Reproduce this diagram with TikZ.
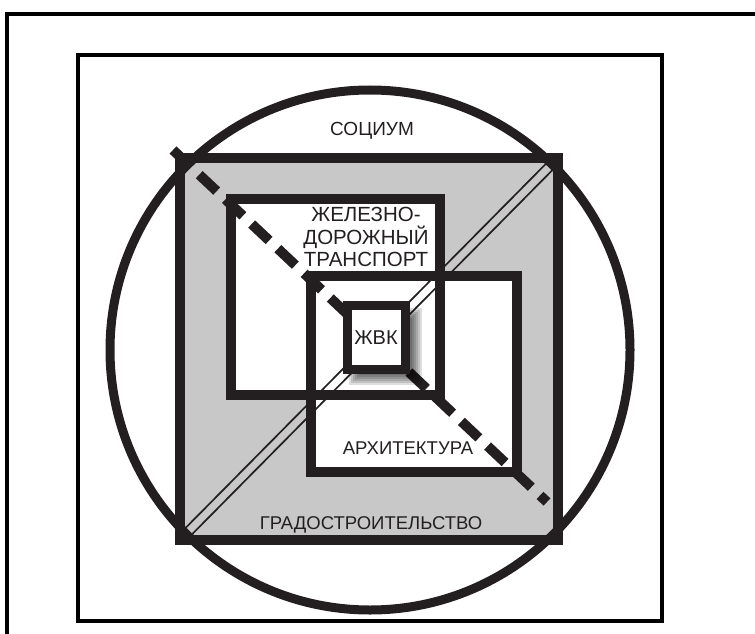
\documentclass[tikz,border=0pt]{standalone}
\usepackage{fontspec}
\setmainfont{Liberation Sans}
\definecolor{ink}{HTML}{231F20}
\definecolor{fieldgray}{HTML}{C8C8C8}
\begin{document}
\begin{tikzpicture}[x=1pt,y=-1pt,
  frame/.style={draw=black,line width=4pt},
  thick box/.style={draw=ink,line width=10pt,line join=miter},
  twin/.style={draw=ink,line width=1.7pt},
  axis dash/.style={draw=ink,line width=10pt,dash pattern=on 24pt off 12pt},
  lbl/.style={font=\fontsize{18.5}{20}\selectfont,text=ink,inner sep=0pt,anchor=base},
  big lbl/.style={lbl,font=\fontsize{20.5}{22}\selectfont}]
\useasboundingbox (0,0) rectangle (755,634);
\begin{scope}
\clip (0,0) rectangle (755,634);
\draw[frame] (7,14) rectangle (790,660);
\end{scope}
\draw[frame] (78,55) rectangle (662,621);
% fills
\fill[fieldgray] (180,158) rectangle (558,540);
\fill[white] (231,199) rectangle (440,395);
\fill[white] (311,276) rectangle (517,472);
% double anti-diagonal
\coordinate (bl) at (180,540);
\coordinate (tr) at (558,158);
\draw[twin] ([shift={(-3.2,-3.2)}]bl) -- ([shift={(-3.2,-3.2)}]tr);
\draw[twin] ([shift={(3.2,3.2)}]bl) -- ([shift={(3.2,3.2)}]tr);
% borders
\draw[thick box] (180,158) rectangle (558,540);
\draw[thick box] (231,199) rectangle (440,395);
\draw[thick box] (311,276) rectangle (517,472);
% circle
\draw[ink,line width=9pt] (370,350) circle (260);
% dashed diagonal
\coordinate (ds) at (173,150);
\coordinate (de) at (547,502);
\draw[axis dash] (ds) -- (de);
% shadow of core box
\foreach \d in {-6,-4,...,6}
  \fill[black,opacity=0.13] ({355-(\d)},{314-(\d)}) rectangle ({416+(\d)},{379+(\d)});
\draw[thick box,line width=9pt,fill=white] (347,305) rectangle (405,369);
% labels
\node[lbl,font=\fontsize{19}{20}\selectfont] (soc) at (372,135) {СОЦИУМ};
\node[big lbl] (rail1) at (366,221) {ЖЕЛЕЗНО-};
\node[big lbl] (rail2) at (366,244) {ДОРОЖНЫЙ};
\node[big lbl] (rail3) at (366,266) {ТРАНСПОРТ};
\node[lbl,font=\fontsize{20}{21}\selectfont] (core) at (376,344) {ЖВК};
\node[lbl] (arch) at (408,454) {АРХИТЕКТУРА};
\node[lbl] (city) at (371,529) {ГРАДОСТРОИТЕЛЬСТВО};
\end{tikzpicture}
\end{document}
